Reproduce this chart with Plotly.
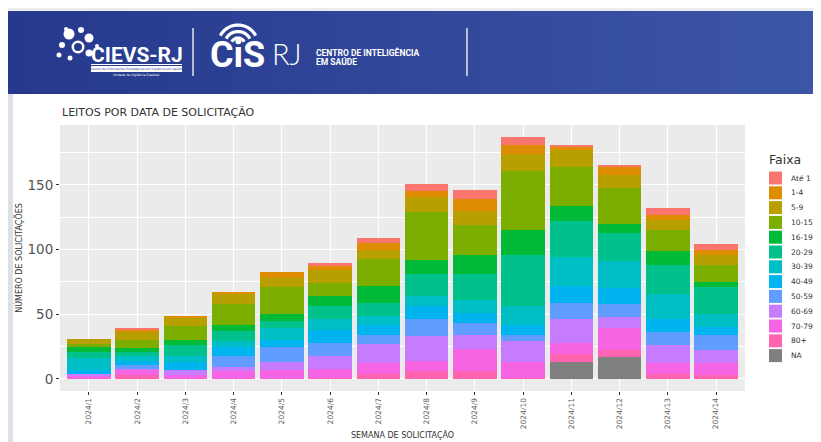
import math
import plotly.graph_objects as go

# ---------------- data ----------------
weeks = ["2024/1", "2024/2", "2024/3", "2024/4", "2024/5", "2024/6", "2024/7",
         "2024/8", "2024/9", "2024/10", "2024/11", "2024/12", "2024/13", "2024/14"]
faixas = ["Até 1", "1-4", "5-9", "10-15", "16-19", "20-29", "30-39",
          "40-49", "50-59", "60-69", "70-79", "80+", "NA"]
colors = ["#F8766D", "#DE8C00", "#B79F00", "#7CAE00", "#00BA38", "#00C08B", "#00BFC4",
          "#00B4F0", "#619CFF", "#C77CFF", "#F564E3", "#FF64B0", "#7F7F7F"]

ate1   = [0, 1, 0, 0, 0, 3, 4, 6, 7, 6, 1, 1, 5, 4]
f1_4   = [0, 2, 2, 1, 5, 3, 5, 4, 9, 7, 3, 6, 4, 4]
f5_9   = [4, 6, 6, 8, 7, 10, 7, 12, 11, 13, 13, 10, 8, 8]
f10_15 = [2, 6, 11, 16, 21, 10, 21, 37, 23, 46, 30, 28, 16, 13]
f16_19 = [4, 3, 4, 5, 5, 8, 13, 11, 15, 19, 12, 7, 11, 4]
f20_29 = [5, 3, 8, 8, 6, 10, 10, 17, 20, 40, 28, 22, 22, 21]
f30_39 = [9, 4, 5, 4, 9, 8, 7, 8, 10, 14, 22, 21, 20, 10]
f40_49 = [3, 3, 6, 7, 5, 10, 8, 10, 8, 8, 13, 12, 10, 6]
f50_59 = [0, 3, 0, 9, 12, 10, 7, 13, 9, 5, 13, 10, 10, 12]
f60_69 = [1, 1, 4, 3, 6, 10, 15, 19, 11, 16, 18, 9, 14, 10]
f70_79 = [3, 4, 3, 6, 7, 7, 8, 8, 17, 12, 9, 17, 8, 9]
f80    = [0, 3, 0, 0, 0, 1, 4, 6, 6, 1, 6, 5, 4, 3]
fna    = [0, 0, 0, 0, 0, 0, 0, 0, 0, 0, 13, 17, 0, 0]

series = [ate1, f1_4, f5_9, f10_15, f16_19, f20_29, f30_39,
          f40_49, f50_59, f60_69, f70_79, f80, fna]

# ---------------- geometry (page pixels; body margin of 8px is compensated) ----------------
PAGE_W, PAGE_H = 821, 442
OFF = 8
FIG_W, FIG_H = PAGE_W - OFF, PAGE_H - OFF
PL, PR, PT, PB = 60, 745, 125, 391      # panel edges in page pixels
PW, PH = PR - PL, PB - PT


def px(x):
    return (x - PL) / PW


def py(y):
    return (PB - y) / PH


fig = go.Figure()

# stacked bars: ggplot puts the first level on top, so add from the last level upward
for name, col, vals in reversed(list(zip(faixas, colors, series))):
    fig.add_trace(go.Bar(x=weeks, y=vals, name=name, marker_color=col,
                         marker_line_width=0, showlegend=False))

shapes = []
annotations = []


def rect(x0, x1, y0, y1, color, layer="below"):
    shapes.append(dict(type="rect", xref="paper", yref="paper", x0=px(x0), x1=px(x1),
                       y0=py(y1), y1=py(y0), fillcolor=color, line_width=0, layer=layer))


def text(t, x, y, size, color, xanchor="left", family="DejaVu Sans", weight=None):
    f = dict(family=family, size=size, color=color)
    if weight is not None:
        f["weight"] = weight
    annotations.append(dict(text=t, x=px(x), y=py(y), xref="paper", yref="paper",
                            xanchor=xanchor, yanchor="middle", showarrow=False, font=f))


# top light strip and left photo edge
rect(OFF, PAGE_W, OFF, 11, "#ECEDF0")
rect(OFF, 13, 94, PAGE_H, "#DCE1E8")

# banner gradient
c0 = (38, 57, 141)
c1 = (60, 86, 166)
N = 40
x_start, x_end = OFF, PAGE_W
for i in range(N):
    t = i / (N - 1)
    c = tuple(int(round(c0[k] + (c1[k] - c0[k]) * t)) for k in range(3))
    xa = x_start + (x_end - x_start) * i / N
    xb = x_start + (x_end - x_start) * (i + 1) / N + 0.8
    rect(xa, xb, 11, 94, "rgb(%d,%d,%d)" % c)

# CIEVS logo dots
dots = [(69, 34, 5.5), (81, 30, 3), (89, 38, 4.5), (62, 45, 3), (78, 47, 6.5),
        (59, 55, 2.5), (89, 53, 3.5), (70, 58, 2.5), (97, 46, 2), (66, 29, 2)]
for cx, cy, r in dots:
    shapes.append(dict(type="circle", xref="paper", yref="paper",
                       x0=px(cx - r), x1=px(cx + r), y0=py(cy + r), y1=py(cy - r),
                       fillcolor="white", line_width=0))
shapes.append(dict(type="circle", xref="paper", yref="paper",
                   x0=px(74), x1=px(82), y0=py(51), y1=py(43),
                   fillcolor="rgb(40,60,142)", line_width=0))
text("<b>CIEVS-RJ</b>", 89, 55, 21, "white", family="Roboto")
shapes.append(dict(type="line", xref="paper", yref="paper", x0=px(91), x1=px(182),
                   y0=py(64.5), y1=py(64.5), line=dict(color="white", width=1.2)))
rect(91, 182, 66, 72, "white", layer="above")
text("Centro de Informações Estratégicas em Vigilância em Saúde", 136.5, 69, 3, "#2B3E92",
     xanchor="center")
text("Unidade de Vigilância Estadual", 136.5, 75.5, 3, "white", xanchor="center")

# dividers
for xd in (193, 467):
    shapes.append(dict(type="line", xref="paper", yref="paper", x0=px(xd), x1=px(xd),
                       y0=py(76), y1=py(28), line=dict(color="white", width=1.3)))

# CiS logo
text("<b>CiS</b>", 208, 55, 36, "white", family="Roboto", weight=900)
acx, acy = 238, 45
for r in (7, 13.5, 20):
    pts = []
    for k in range(21):
        a = math.radians(28 + 124 * k / 20)
        pts.append((px(acx + r * math.cos(a)), py(acy - r * math.sin(a))))
    path = "M " + " L ".join("%.5f,%.5f" % p for p in pts)
    shapes.append(dict(type="path", xref="paper", yref="paper", path=path,
                       line=dict(color="white", width=3.2)))
text("RJ", 270, 54, 29, "white", family="Lato", weight=300)
text("<b>CENTRO DE INTELIGÊNCIA</b>", 314, 52.5, 8.5, "white", family="Roboto")
text("<b>EM SAÚDE</b>", 314, 62, 8.5, "white", family="Roboto")

# chart title
text("LEITOS POR DATA DE SOLICITAÇÃO", 60, 113, 11, "#333333")

# manual legend (ggplot style)
text("Faixa", 767, 159, 12.5, "#333333")
for i, (name, col) in enumerate(zip(faixas, colors)):
    yc = 178 + i * 14.8
    rect(769, 782, yc - 6.5, yc + 6.5, col, layer="above")
    text(name, 789, yc, 7.5, "#333333")

totmax = max(sum(v) for v in zip(*series))
fig.update_layout(
    width=FIG_W, height=FIG_H,
    margin=dict(l=PL - OFF, r=PAGE_W - PR, t=PT - OFF, b=PAGE_H - PB, autoexpand=False),
    paper_bgcolor="white",
    plot_bgcolor="#EBEBEB",
    barmode="stack",
    bargap=0.1,
    showlegend=False,
    shapes=shapes,
    annotations=annotations,
    font=dict(family="DejaVu Sans", color="#333333"),
    xaxis=dict(type="category", range=[-0.6, len(weeks) - 0.4],
               showgrid=True, gridcolor="white", gridwidth=1.1,
               ticks="outside", ticklen=3, tickcolor="#333333",
               tickangle=-90, tickfont=dict(size=7.5, color="#5E5E5E"),
               title=dict(text="SEMANA DE SOLICITAÇÃO", standoff=4,
                          font=dict(size=8, color="#333333")),
               showline=False, zeroline=False),
    yaxis=dict(range=[-0.05 * totmax, 1.05 * totmax],
               tickvals=[0, 50, 100, 150],
               showgrid=True, gridcolor="white", gridwidth=1.1,
               minor=dict(tickvals=[25, 75, 125, 175], showgrid=True,
                          gridcolor="white", gridwidth=0.5),
               ticks="outside", ticklen=3, tickcolor="#333333",
               tickfont=dict(size=13.5, color="#555555"),
               title=dict(text="NÚMERO DE SOLICITAÇÕES", standoff=3,
                          font=dict(size=8, color="#333333")),
               showline=False, zeroline=False),
)

fig.write_html("out.html")
